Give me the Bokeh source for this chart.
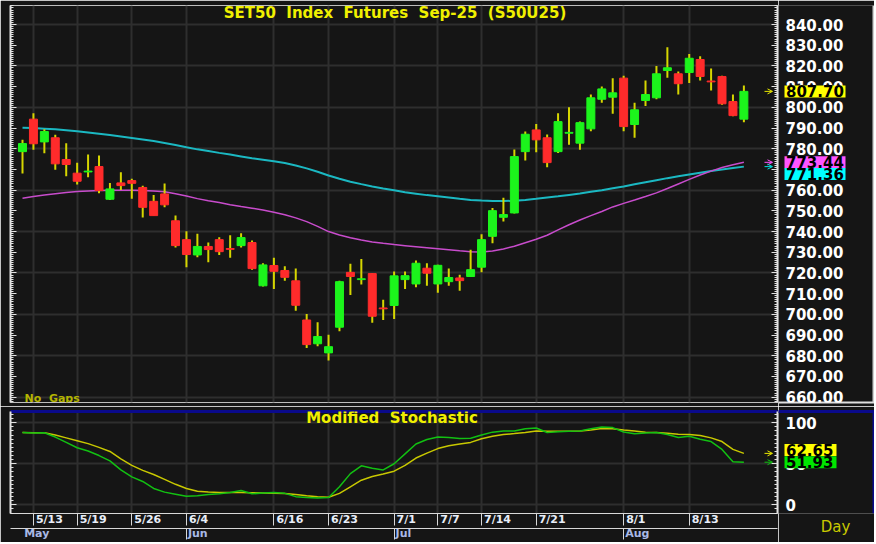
from bokeh.plotting import figure
from bokeh.models import (Range1d, LinearAxis, FixedTicker, Label, Arrow, OpenHead, Span,
                          CustomJSTickFormatter, PrintfTickFormatter, ColumnDataSource)
from bokeh.layouts import column, row
from bokeh.embed import file_html
from bokeh.resources import INLINE
from bokeh.core.properties import value

# ---------------- data ----------------
opens = [778.6, 794.3, 783.3, 785.3, 774.8, 768.2, 768.8, 771.4, 755.6, 763.5,
         764.6, 761.3, 754.6, 758.2, 745.2, 736.1, 728.7, 732.8, 736.1, 731.8,
         733.2, 734.7, 713.8, 723.6, 721.2, 716.2, 697.3, 685.8, 681.4, 693.8,
         720.3, 716.8, 719.7, 703.1, 704.3, 716.8, 714.7, 722.3, 714.7, 715.8,
         717.6, 718.3, 722.8, 737.7, 746.9, 749.0, 778.6, 789.1, 785.3, 778.6,
         787.5, 782.7, 789.6, 803.9, 804.9, 814.1, 791.7, 803.3, 804.6, 817.8,
         816.2, 816.8, 823.1, 812.7, 814.9, 802.8, 794.3]
highs = [784.4, 797.2, 789.4, 786.7, 782.7, 773.2, 777.2, 776.7, 763.5, 768.6,
         765.5, 762.1, 757.7, 763.2, 747.7, 740.1, 738.9, 734.7, 737.3, 738.2,
         739.2, 735.7, 724.7, 727.3, 723.2, 722.1, 700.2, 696.2, 690.2, 716.3,
         724.4, 726.8, 720.0, 707.1, 720.7, 720.7, 726.0, 724.7, 724.0, 722.1,
         719.1, 731.2, 738.7, 751.4, 756.3, 779.6, 788.3, 792.0, 786.9, 797.2,
         800.0, 793.1, 806.2, 810.0, 814.1, 815.2, 802.2, 812.9, 819.9, 829.0,
         817.3, 825.8, 824.7, 818.7, 815.2, 806.2, 810.5]
lows = [768.0, 779.5, 777.8, 769.8, 766.7, 762.7, 766.2, 758.5, 755.2, 760.1,
        755.8, 746.8, 747.7, 751.7, 732.3, 722.8, 727.6, 725.2, 728.7, 727.3,
        732.3, 721.6, 713.5, 712.3, 716.3, 701.8, 683.8, 684.6, 677.7, 691.8,
        709.4, 714.4, 695.9, 697.3, 697.8, 712.3, 713.1, 713.8, 710.4, 713.8,
        711.4, 718.0, 720.3, 734.3, 744.8, 748.7, 774.3, 778.3, 771.1, 778.0,
        781.9, 779.5, 788.5, 802.2, 796.9, 788.5, 785.3, 800.7, 803.9, 814.3,
        806.2, 811.8, 812.9, 808.1, 801.2, 795.7, 792.8]
closes = [782.5, 782.4, 788.3, 772.7, 772.4, 764.3, 769.2, 759.8, 760.6, 762.2,
          763.3, 751.7, 747.7, 752.9, 733.2, 728.9, 732.8, 731.3, 730.3, 731.4,
          737.1, 722.1, 723.9, 720.8, 717.9, 704.4, 685.4, 689.3, 684.4, 715.8,
          718.3, 717.2, 699.1, 702.7, 718.6, 718.7, 724.7, 719.9, 723.7, 717.8,
          716.3, 721.6, 736.1, 750.1, 748.2, 776.2, 787.0, 784.3, 773.3, 793.1,
          787.9, 792.6, 804.6, 808.9, 807.0, 790.7, 798.8, 806.2, 816.2, 819.1,
          811.4, 823.7, 814.9, 812.3, 801.7, 796.0, 807.7]
ma_cyan = [790.1, 790.0, 789.7, 789.4, 788.9, 788.4, 787.8, 787.2, 786.6, 785.9,
           785.2, 784.5, 783.7, 782.8, 781.8, 780.7, 779.7, 778.9, 778.0, 777.2,
           776.3, 775.4, 774.7, 774.0, 773.1, 771.9, 770.5, 768.9, 767.1, 765.5,
           764.1, 762.9, 761.8, 760.8, 759.9, 759.0, 758.3, 757.6, 757.0, 756.4,
           755.8, 755.3, 755.0, 754.8, 754.7, 754.9, 755.3, 755.8, 756.4, 757.0,
           757.7, 758.4, 759.2, 760.0, 760.9, 761.8, 762.8, 763.8, 764.8, 765.8,
           766.7, 767.6, 768.4, 769.2, 770.0, 770.7, 771.36]
ma_magenta = [756.1, 756.9, 757.6, 758.3, 758.9, 759.3, 759.6, 759.8, 759.9, 759.9,
              759.9, 759.8, 759.6, 759.2, 758.3, 757.2, 755.9, 754.9, 754.0, 753.0,
              752.1, 751.3, 750.4, 749.3, 748.1, 746.6, 744.8, 742.5, 740.0, 738.3,
              737.0, 735.9, 735.0, 734.3, 733.7, 733.2, 732.7, 732.2, 731.7, 731.2,
              730.7, 730.3, 730.1, 730.6, 731.6, 732.9, 734.6, 736.3, 738.2, 740.8,
              743.3, 745.6, 747.7, 749.7, 751.9, 753.6, 755.2, 756.9, 758.7, 760.8,
              763.0, 765.2, 767.3, 769.2, 770.9, 772.3, 773.44]
stoch_fast = [88.0, 87.5, 87.8, 82.5, 76.0, 69.5, 65.5, 60.0, 53.5, 42.5,
              34.0, 28.5, 20.0, 15.5, 13.0, 10.5, 11.0, 12.5, 13.5, 15.0,
              17.5, 13.5, 14.5, 15.0, 14.0, 10.0, 9.0, 8.5, 9.0, 22.0,
              38.0, 47.5, 44.5, 42.5, 50.0, 62.0, 74.0, 79.5, 82.5, 82.0,
              80.7, 81.0, 85.0, 88.5, 89.9, 90.0, 92.5, 93.5, 88.0, 89.0,
              89.5, 89.9, 92.5, 94.7, 94.0, 88.7, 86.5, 87.5, 88.0, 85.5,
              82.0, 83.5, 79.8, 77.0, 67.5, 52.5, 51.93]
stoch_slow = [88.0, 87.8, 87.8, 85.0, 81.5, 78.0, 74.5, 70.0, 65.0, 56.0,
              48.0, 42.0, 37.0, 31.0, 25.0, 20.0, 16.5, 15.8, 15.2, 15.0,
              15.0, 14.8, 14.5, 14.0, 13.8, 12.5, 11.0, 10.0, 9.2, 14.0,
              22.0, 30.0, 34.5, 37.5, 41.0, 48.0, 57.0, 63.0, 68.5, 72.0,
              74.0, 76.0, 80.5, 83.5, 85.5, 86.7, 88.0, 89.9, 89.5, 89.5,
              89.5, 89.9, 91.0, 92.8, 92.5, 91.0, 89.8, 88.5, 88.0, 87.0,
              85.8, 85.5, 84.5, 81.5, 77.0, 67.5, 62.65]
date_ticks = [1, 5, 10, 15, 23, 28, 34, 38, 42, 47, 55, 61]
date_labels = ["5/13", "5/19", "5/26", "6/4", "6/16", "6/23", "7/1", "7/7",
               "7/14", "7/21", "8/1", "8/13"]
month_ticks = [0, 15, 34, 55]
month_labels = ["May", "Jun", "Jul", "Aug"]
price_ticks = list(range(660, 841, 10))
price_grid = list(range(660, 841, 20))
stoch_ticks = [0, 50, 100]
last_close, last_magenta, last_cyan = 807.70, 773.44, 771.36
last_slow, last_fast = 62.65, 51.93
title_text = "SET50  Index  Futures  Sep-25  (S50U25)"
stoch_title = "Modified  Stochastic"

# ---------------- style / geometry ----------------
BG = "#151515"
GRID = "#2e2e2e"
AXC = "#e2e2e2"
WICK = "#d6d600"
UP, DN = "#1cf41c", "#ff2b2b"
NAVY = "#0a0a8c"
LIGHT = "#cfcfcf"
FONT = "DejaVu Sans"
WL, WR = 778, 96                      # widths: chart part / right label part
FL, FR = 10, 777                      # frame left / right (px)
PX = 10.93                            # px per bar
X0 = -(22 - FL) / PX
X1 = X0 + (FR - FL) / PX
PY0, PY1 = 657.44, 849.18             # main y range (frame 5..402 px)
PYPX = 397 / (PY1 - PY0)
SY1 = 113.6
SY0 = -10.5
SPX = 104 / (SY1 - SY0)               # stochastic frame ~410..514 px


def nb(t):
    return t.replace(" ", "\u00a0")


def py(px):        # price at a page row
    return PY1 - (px - 5) / PYPX


def sy(px):        # stochastic value at a page row
    return SY1 - (px - 410) / SPX


idx = list(range(len(closes)))
src = ColumnDataSource(dict(
    x=idx, lo=lows, hi=highs,
    top=[max(o, c) for o, c in zip(opens, closes)],
    bot=[min(o, c) for o, c in zip(opens, closes)],
    col=[UP if c >= o else DN for o, c in zip(opens, closes)],
))


def blank():
    return CustomJSTickFormatter(code="return '';")


def tick_axis(ticks, minor):
    return LinearAxis(ticker=FixedTicker(ticks=ticks, minor_ticks=minor), formatter=blank(),
                      axis_line_color=AXC, axis_line_width=2,
                      major_tick_in=6, major_tick_out=0, minor_tick_in=3, minor_tick_out=0,
                      major_tick_line_color=AXC, minor_tick_line_color=AXC,
                      major_label_standoff=0, major_label_text_font_size="0px")


def rule_axis(color, width, bounds=None):
    kw = dict(bounds=bounds) if bounds else {}
    return LinearAxis(ticker=FixedTicker(ticks=[]), formatter=blank(),
                      axis_line_color=color, axis_line_width=width,
                      major_tick_out=0, major_tick_in=0, minor_tick_out=0, minor_tick_in=0,
                      major_label_standoff=0, major_label_text_font_size="0px", **kw)


def label_axis(ticks, fmt):
    return LinearAxis(fixed_location=WL, ticker=FixedTicker(ticks=ticks), formatter=fmt,
                      axis_line_color=None, major_tick_line_color=None,
                      minor_tick_line_color=None, major_tick_in=0, major_tick_out=0,
                      major_label_standoff=7, major_label_text_color="white",
                      major_label_text_font=FONT, major_label_text_font_size="15px",
                      major_label_text_font_style="bold")


def arrow(fig, y, col):
    fig.add_layout(Arrow(end=OpenHead(size=5, line_color=col, line_width=1),
                         x_start=X0 + (764 - FL) / PX, x_end=X0 + (772 - FL) / PX,
                         y_start=y, y_end=y, line_color=col, line_width=1))


def tags(fig, ys, texts, colors, box_w):
    fig.rect(x=[784 + box_w / 2] * len(ys), y=ys, width=box_w, height=12, height_units="screen",
             fill_color=colors, line_color=None, level="overlay")
    fig.text(x=[785.5] * len(ys), y=ys, text=texts, text_align="left", text_baseline="middle",
             text_font=value(FONT), text_font_size="15px", text_font_style="bold",
             text_color="black", level="overlay")


# ---------------- main price panel ----------------
p = figure(width=WL, height=406, x_range=Range1d(X0, X1), y_range=Range1d(PY0, PY1),
           x_axis_location=None, y_axis_location=None, toolbar_location=None,
           output_backend="svg", min_border_left=FL, min_border_right=WL - FR,
           min_border_top=5, min_border_bottom=4,
           background_fill_color=BG, border_fill_color=BG,
           outline_line_color="#bdbdbd", outline_line_width=1)
p.xgrid.ticker = FixedTicker(ticks=date_ticks)
p.ygrid.ticker = FixedTicker(ticks=price_grid)
for g in (p.xgrid, p.ygrid):
    g.grid_line_color = GRID
    g.grid_line_width = 2
p.add_layout(tick_axis(price_ticks, list(range(657, 850))), "right")
p.add_layout(tick_axis(price_ticks, list(range(657, 850))), "left")

p.line(idx, ma_cyan, line_color="#1bb8c2", line_width=2)
p.line(idx, ma_magenta, line_color="#c84ccc", line_width=1.5)
p.segment(x0="x", y0="lo", x1="x", y1="hi", source=src, line_color=WICK, line_width=2)
p.vbar(x="x", width=0.73, top="top", bottom="bot", source=src,
       fill_color="col", line_color="col", line_width=1)

p.add_layout(Label(x=X0 + (394.5 - FL) / PX, y=py(3.5), text=nb(title_text),
                   text_align="center", text_baseline="top", text_font=FONT,
                   text_font_size="15px", text_font_style="bold", text_color="#f0f000"))
p.add_layout(Label(x=X0 + (24 - FL) / PX, y=py(398), text=nb("No  Gaps"),
                   text_align="left", text_baseline="middle",
                   text_font=FONT, text_font_size="11px", text_font_style="bold",
                   text_color="#b4b400"))
arrow(p, last_close, "#e8e800")
arrow(p, last_magenta, "#ff55ff")
arrow(p, last_cyan, "#00e0e0")

# right label strip of the price panel (frame aligned with the price panel)
pr = figure(width=WR, height=406, x_range=Range1d(WL, WL + WR), y_range=p.y_range,
            x_axis_location=None, y_axis_location=None,
            toolbar_location=None, output_backend="svg", min_border=0,
            min_border_top=5, min_border_bottom=4,
            background_fill_color=BG, border_fill_color=BG, outline_line_color=None)
pr.xgrid.visible = False
pr.ygrid.visible = False
pr.add_layout(label_axis(price_ticks, PrintfTickFormatter(format="%.2f")), "right")
pr.add_layout(rule_axis("#e0e0e0", 2), "below")
tags(pr, [last_close, last_magenta, py(173.5)],
     ["%.2f" % last_close, "%.2f" % last_magenta, "%.2f" % last_cyan],
     ["#ffff00", "#ff55ff", "#00ffff"], 61)
pr.add_layout(Span(location=873.5, dimension="height", line_color=LIGHT, line_width=3))

# ---------------- stochastic panel ----------------
s = figure(width=WL, height=136, x_range=p.x_range, y_range=Range1d(SY0, SY1),
           x_axis_location=None, y_axis_location=None, toolbar_location=None,
           output_backend="svg", min_border_left=FL, min_border_right=WL - FR,
           min_border_top=5, min_border_bottom=0,
           background_fill_color=BG, border_fill_color=BG, outline_line_color=None)
s.xgrid.ticker = FixedTicker(ticks=date_ticks)
s.ygrid.ticker = FixedTicker(ticks=stoch_ticks)
for g in (s.xgrid, s.ygrid):
    g.grid_line_color = GRID
    g.grid_line_width = 2
s.add_layout(tick_axis(stoch_ticks, list(range(-10, 115, 5))), "right")
s.add_layout(tick_axis(stoch_ticks, list(range(-10, 115, 5))), "left")
s.add_layout(rule_axis(NAVY, 3, (X0 - FL / PX, X1 + 2 / PX)), "above")

CW = {'0': .696, '1': .696, '2': .696, '3': .696, '4': .696, '5': .696, '6': .696,
      '7': .696, '8': .696, '9': .696, '/': .365, 'M': .995, 'a': .675, 'y': .652,
      'J': .372, 'u': .712, 'n': .712, 'l': .343, 'A': .774, 'g': .716}


def centers(ticks, labels, gap, size):
    return [t + (gap + sum(CW.get(ch, .65) for ch in lab) * size / 2) / PX
            for t, lab in zip(ticks, labels)]


def label_fmt(pos, labs):
    return CustomJSTickFormatter(args=dict(pos=pos, lab=labs), code="""
        let b = 0, d = 1e9;
        for (let i = 0; i < pos.length; i++) { const q = Math.abs(pos[i] - tick); if (q < d) { d = q; b = i; } }
        return lab[b];""")


dc = centers(date_ticks, date_labels, 2.5, 11)
mc = centers(month_ticks, month_labels, 1.5, 11)

ax_d = LinearAxis(ticker=FixedTicker(ticks=dc, minor_ticks=date_ticks),
                  formatter=label_fmt(dc, date_labels),
                  axis_line_color="#d8d8d8", axis_line_width=1,
                  major_tick_in=0, major_tick_out=0, minor_tick_in=0, minor_tick_out=12,
                  minor_tick_line_color="#d8d8d8", major_label_standoff=-13,
                  major_label_text_font=FONT, major_label_text_font_size="11px",
                  major_label_text_font_style="bold", major_label_text_color="#e8eef8")
s.add_layout(ax_d, "below")
ax_m = LinearAxis(ticker=FixedTicker(ticks=mc, minor_ticks=month_ticks[1:]),
                  formatter=label_fmt(mc, month_labels),
                  axis_line_color="#d8d8d8", axis_line_width=1,
                  major_tick_in=0, major_tick_out=0, minor_tick_in=0, minor_tick_out=11,
                  minor_tick_line_color="#d8d8d8", major_label_standoff=-13,
                  major_label_text_font=FONT, major_label_text_font_size="11px",
                  major_label_text_font_style="bold", major_label_text_color="#a9b9e6")
s.add_layout(ax_m, "below")

s.line(idx, stoch_slow, line_color="#c8c800", line_width=1.5)
s.line(idx, stoch_fast, line_color="#12c012", line_width=1.5)

s.add_layout(Label(x=X0 + (391.5 - FL) / PX, y=sy(416.7), text=nb(stoch_title),
                   text_align="center", text_baseline="middle", text_font=FONT,
                   text_font_size="15px", text_font_style="bold", text_color="#f0f000"))
arrow(s, last_slow, "#e8e800")
arrow(s, last_fast, "#10c010")

# right label strip of the stochastic panel (frame aligned with the stochastic panel)
sr = figure(width=WR, height=136, x_range=Range1d(WL, WL + WR), y_range=s.y_range,
            x_axis_location=None, y_axis_location=None,
            toolbar_location=None, output_backend="svg", min_border=0, min_border_top=5,
            background_fill_color=BG, border_fill_color=BG, outline_line_color=None)
sr.xgrid.visible = False
sr.ygrid.visible = False
sr.add_layout(label_axis(stoch_ticks, PrintfTickFormatter(format="%d")), "right")
sr.add_layout(rule_axis(NAVY, 3), "above")
sr.add_layout(LinearAxis(ticker=FixedTicker(ticks=[835]), formatter=CustomJSTickFormatter(code="return 'Day';"),
                         axis_line_color=None, major_tick_line_color=None, minor_tick_line_color=None,
                         major_tick_in=0, major_tick_out=0, major_label_standoff=4,
                         major_label_text_color="#c8c800", major_label_text_font=FONT,
                         major_label_text_font_size="15px"), "below")
tags(sr, [sy(449.2), sy(461.7)], ["%.2f" % last_slow, "%.2f" % last_fast],
     ["#ffff00", "#00e600"], 52)
sr.add_layout(Span(location=873.5, dimension="height", line_color=NAVY, line_width=3))

layout = column(row(p, pr, spacing=0), row(s, sr, spacing=0), spacing=0)
open("out.html", "w").write(file_html(layout, INLINE))
